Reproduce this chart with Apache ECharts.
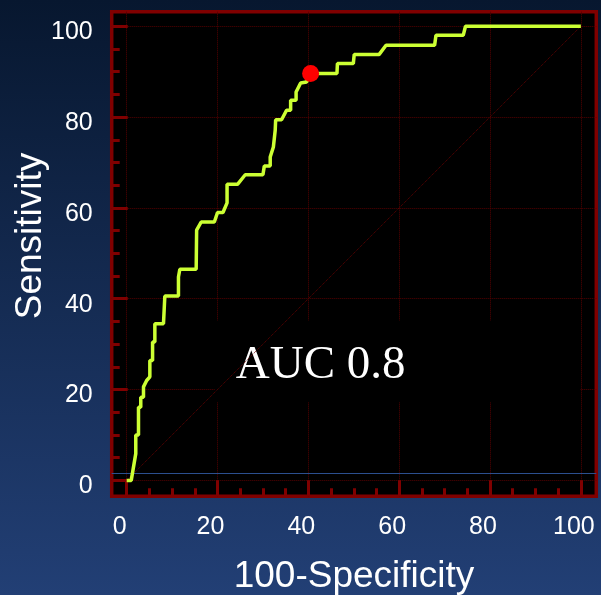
<!DOCTYPE html>
<html><head><meta charset="utf-8">
<style>html,body{margin:0;padding:0;width:601px;height:595px;overflow:hidden;}#c{width:601px;height:595px;}</style>
<script src="https://cdn.jsdelivr.net/npm/echarts@6/dist/echarts.min.js"></script>
</head><body><div id="c"></div>
<script>
// ROC curve (100-Specificity, Sensitivity)
const rocX = [0, 1.0, 2.0, 2.0, 2.6, 2.6, 3.1, 3.1, 3.7, 3.7, 4.4, 5.1, 5.1, 5.7, 5.7, 6.2, 6.2, 8.1, 8.4, 11.4, 11.4, 11.7, 11.7, 15.3, 15.4, 16.4, 19.3, 20.0, 21.2, 22.1, 22.1, 24.4, 26.1, 30.0, 30.3, 31.6, 31.6, 32.3, 32.7, 32.8, 34.1, 35.2, 36.1, 36.1, 37.3, 37.3, 38.3, 39.6, 40.5, 46.3, 46.4, 49.9, 50.1, 55.6, 57.1, 67.8, 68.1, 74.1, 74.6, 100];
const rocY = [0, 0, 5.9, 10.0, 10.0, 16.1, 16.1, 18.3, 18.3, 20.6, 22.0, 22.8, 26.4, 26.4, 30.5, 30.5, 34.5, 34.5, 40.6, 40.6, 44.8, 44.8, 46.5, 46.5, 55.1, 56.9, 56.9, 59.0, 59.0, 61.1, 65.2, 65.2, 67.3, 67.3, 69.2, 69.2, 71.2, 73.4, 77.1, 79.4, 79.4, 81.5, 81.5, 83.7, 83.7, 85.5, 87.5, 87.7, 89.6, 89.6, 91.8, 91.8, 93.8, 93.8, 95.8, 95.8, 98.0, 98.0, 100, 100];
const diagX = [0, 100];
const diagY = [0, 100];
const cutoffPoint = [40.5, 89.6];
const majorTicks = [0, 20, 40, 60, 80, 100];
const minorTicks = [5, 10, 15, 25, 30, 35, 45, 50, 55, 65, 70, 75, 85, 90, 95];
const aucLabel = 'AUC 0.8';
const xTitle = '100-Specificity';
const yTitle = 'Sensitivity';

const RED = '#800000';
const GRIDRED = '#560000';
const SANS = 'Liberation Sans, Arial, sans-serif';

function majorAxis(isX) {
  return {
    type: 'value',
    min: isX ? -3.3 : -3.5,
    max: isX ? 103.4 : 103.2,
    position: isX ? 'bottom' : 'left',
    axisLine: { show: false, onZero: false },
    axisTick: { show: true, inside: true, length: 16, customValues: majorTicks, lineStyle: { color: RED, width: 3 } },
    axisLabel: {
      customValues: majorTicks, color: '#fff', fontSize: 25, fontFamily: SANS,
      margin: isX ? 18 : 19,
      formatter: (v) => '{t|' + v + '}',
      rich: {
        t: {
          color: '#fff', fontSize: 25, fontFamily: SANS,
          padding: isX ? [0, 14, 0, 0] : [12, 0, 0, 0]
        }
      }
    },
    splitLine: { show: true, lineStyle: { type: 'dotted', color: GRIDRED, width: 1 } },
    name: isX ? xTitle : yTitle,
    nameLocation: 'middle',
    nameMoveOverlap: false,
    nameGap: isX ? 62 : 62,
    nameTextStyle: { color: '#fff', fontSize: 37, fontFamily: SANS, padding: isX ? 0 : [0, 0, 0, 36] }
  };
}
function minorAxis(isX) {
  return {
    type: 'value',
    min: isX ? -3.3 : -3.5,
    max: isX ? 103.4 : 103.2,
    position: isX ? 'bottom' : 'left',
    axisLine: { show: false, onZero: false },
    axisTick: { show: true, inside: true, length: 8, customValues: minorTicks, lineStyle: { color: RED, width: 3 } },
    axisLabel: { show: false, customValues: minorTicks },
    splitLine: { show: false }
  };
}

const chart = echarts.init(document.getElementById('c'), null, { renderer: 'canvas' });
chart.setOption({
  animation: false,
  backgroundColor: {
    type: 'linear', x: 0, y: 0, x2: 0, y2: 1,
    colorStops: [{ offset: 0, color: '#07172f' }, { offset: 1, color: '#223f75' }]
  },
  grid: {
    left: 111.7, right: 4.7, top: 11.7, bottom: 98.7,
    containLabel: false, outerBoundsMode: 'none',
    show: true, backgroundColor: '#000', borderColor: RED, borderWidth: 3.5
  },
  xAxis: [majorAxis(true), minorAxis(true)],
  yAxis: [majorAxis(false), minorAxis(false)],
  series: [
    {
      type: 'line', z: 2, symbol: 'none', silent: true,
      data: diagX.map((x, i) => [x, diagY[i]]),
      lineStyle: { type: 'dotted', color: '#6a0000', width: 1 },
      markLine: {
        silent: true, symbol: 'none', label: { show: false },
        lineStyle: { color: '#2b4f8f', width: 1, type: 'solid' },
        data: [{ yAxis: 1.5 }]
      }
    },
    {
      type: 'line', z: 3, symbol: 'none', silent: true, data: [],
      markArea: {
        silent: true,
        itemStyle: { color: '#000' },
        label: {
          show: true, position: 'insideLeft', distance: 21, offset: [0, 4], color: '#fff',
          fontFamily: 'Liberation Serif, Times New Roman, serif', fontSize: 47,
          formatter: aucLabel
        },
        data: [[{ xAxis: 19.4, yAxis: 35.2 }, { xAxis: 99.9, yAxis: 17.2 }]]
      }
    },
    {
      type: 'line', z: 5, symbol: 'none', smooth: false,
      data: rocX.map((x, i) => [x, rocY[i]]),
      lineStyle: { color: '#ccff33', width: 3.5 }
    },
    {
      type: 'scatter', z: 6, symbolSize: 17,
      data: [cutoffPoint],
      itemStyle: { color: '#ff0000', opacity: 1 }
    }
  ]
});
</script>
</body></html>
